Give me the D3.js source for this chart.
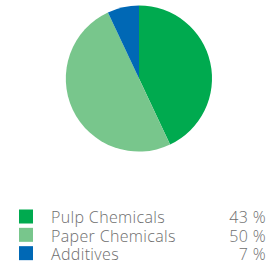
<!DOCTYPE html>
<html>
<head>
<meta charset="utf-8">
<script src="https://cdn.jsdelivr.net/npm/d3@7"></script>
<style>
  body { margin: 0; background: #fff; }
  svg { display: block; }
</style>
</head>
<body>
<svg id="chart" width="273" height="266"></svg>
<script>
const categories = ["Pulp Chemicals", "Paper Chemicals", "Additives"]
const shares = [43, 50, 7]
const colors = ["#00aa4f", "#78c68c", "#0068b5"]

var svg = d3.select("#chart")

// pie, starts at 12 o'clock and runs clockwise
var pie = d3.pie().sort(null).value(d => d)
var arc = d3.arc().innerRadius(0).outerRadius(73)

var g = svg.append("g").attr("transform", "translate(139,78.5)")
g.selectAll("path")
    .data(pie(shares))
    .join("path")
    .attr("d", arc)
    .attr("fill", (d, i) => colors[i])

// legend
var y = d3.scaleBand().domain(categories).range([209.5, 264.5]).paddingInner(0)

var rows = svg.selectAll("g.row")
    .data(categories)
    .join("g")
    .attr("class", "row")
    .attr("transform", d => "translate(0," + y(d) + ")")

rows.append("rect")
    .attr("x", 19)
    .attr("y", 0)
    .attr("width", 14)
    .attr("height", 14)
    .attr("fill", (d, i) => colors[i])

rows.append("text")
    .attr("x", 51)
    .attr("y", 13.7)
    .attr("font-family", "Open Sans")
    .attr("font-weight", 300)
    .attr("font-size", 16)
    .attr("fill", "#6e6e6e")
    .attr("letter-spacing", 0.35)
    .text(d => d)

rows.append("text")
    .attr("x", 266)
    .attr("y", 13.7)
    .attr("text-anchor", "end")
    .attr("font-family", "Open Sans")
    .attr("font-weight", 300)
    .attr("font-size", 16)
    .attr("fill", "#6e6e6e")
    .attr("letter-spacing", 0.35)
    .text((d, i) => shares[i] + " %")
</script>
</body>
</html>
